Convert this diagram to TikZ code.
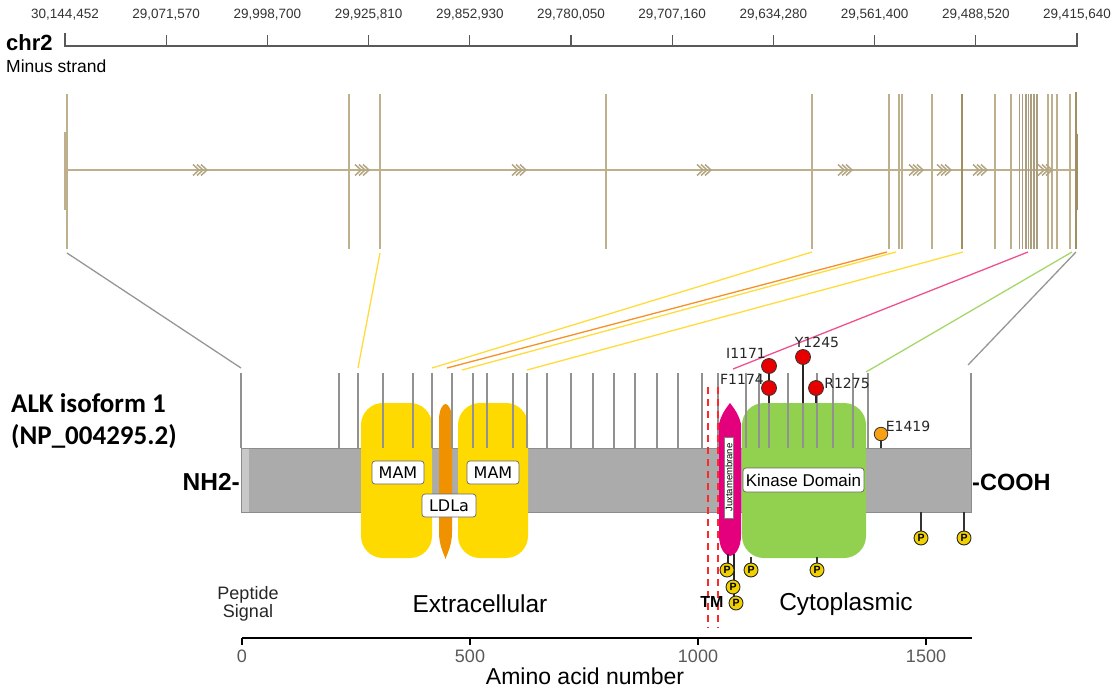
\documentclass[tikz,border=0pt]{standalone}
\usepackage{fontspec}
\setmainfont{Liberation Sans}
\newfontfamily\dejavu{DejaVu Sans}
\newfontfamily\carlito{Carlito}
\newcommand\myfs[1]{\fontsize{#1}{#1}\selectfont}
\definecolor{exon}{RGB}{190,176,140}
\definecolor{exondark}{RGB}{160,143,98}
\definecolor{bargray}{RGB}{171,171,171}
\definecolor{barlight}{RGB}{200,200,200}
\definecolor{barline}{RGB}{140,140,140}
\definecolor{tickgray}{RGB}{145,145,145}
\definecolor{mamyel}{RGB}{255,218,0}
\definecolor{ldlor}{RGB}{240,146,0}
\definecolor{jmmag}{RGB}{228,0,124}
\definecolor{kingreen}{RGB}{146,208,80}
\definecolor{lolred}{RGB}{230,0,0}
\definecolor{lolor}{RGB}{247,160,20}
\definecolor{pyel}{RGB}{240,208,0}
\definecolor{cyel}{RGB}{255,220,60}
\definecolor{cor}{RGB}{245,145,40}
\definecolor{cpink}{RGB}{240,80,140}
\definecolor{cgreen}{RGB}{165,215,105}
\definecolor{cgray}{RGB}{150,150,150}
\definecolor{tmred}{RGB}{255,40,40}
\begin{document}
\begin{tikzpicture}[x=1pt,y=-1pt,
  chrlab/.style={font=\myfs{13.5}, text=black!80, inner sep=0pt},
  exonline/.style={exon, line width=1.5pt},
  ptick/.style={tickgray, line width=1.2pt},
  conn/.style={line width=1.3pt},
  domlabel/.style={draw=black!60, fill=white, rounded corners=3pt, inner sep=2.5pt, line width=0.7pt},
  lolr/.style={circle, draw=black!80, fill=lolred, minimum size=15pt, inner sep=0pt, line width=0.8pt},
  lolo/.style={circle, draw=black!80, fill=lolor, minimum size=13.5pt, inner sep=0pt, line width=0.8pt},
  pcirc/.style={circle, draw=black!85, fill=pyel, minimum size=14pt, inner sep=0pt, font=\bfseries\myfs{10.5}, line width=0.9pt},
  mutlabel/.style={font=\dejavu\myfs{14}, inner sep=0pt, text=black!85},
  stem/.style={black!85, line width=1.6pt},
  bigtext/.style={font=\myfs{24.5}, inner sep=0pt},
  axlab/.style={font=\myfs{18}, text=black!65, inner sep=0pt}
]
\useasboundingbox (0,0) rectangle (1115,687);

% ---------- chromosome axis ----------
\draw[black!65, line width=1.2pt] (65,33) -- (65,46) -- (1077,46) -- (1077,33);
\foreach \i in {1,...,9} \draw[black!65, line width=1.2pt] ({65+\i*101.2},35) -- ({65+\i*101.2},46);
\node[chrlab] (c0) at (65,15) {30,144,452};
\node[chrlab] (c1) at (166.2,15) {29,071,570};
\node[chrlab] (c2) at (267.4,15) {29,998,700};
\node[chrlab] (c3) at (368.6,15) {29,925,810};
\node[chrlab] (c4) at (469.8,15) {29,852,930};
\node[chrlab] (c5) at (571,15) {29,780,050};
\node[chrlab] (c6) at (672.2,15) {29,707,160};
\node[chrlab] (c7) at (773.4,15) {29,634,280};
\node[chrlab] (c8) at (874.6,15) {29,561,400};
\node[chrlab] (c9) at (975.8,15) {29,488,520};
\node[chrlab] (c10) at (1077,15) {29,415,640};
\node[anchor=west, font=\bfseries\myfs{22}, inner sep=0pt] (chr) at (6,43) {chr2};
\node[anchor=west, font=\myfs{17.5}, inner sep=0pt] (minus) at (6,66) {Minus strand};

% ---------- exon structure ----------
\draw[exon, line width=2pt] (67,170) -- (1076,170);
\foreach \x in {67,349,380,606,812,889,899,902,932,995,1011,1048,1052,1057,1070}
  \draw[exonline] (\x,94) -- (\x,249);
\foreach \x in {1019.5,1022.5,1026,1028.5,1031,1034,1037}
  \draw[exon!90!black, line width=1.1pt] (\x,94) -- (\x,249);
\draw[exondark, line width=1.5pt] (962,94) -- (962,249);
\draw[exondark, line width=1.8pt] (1076,92) -- (1076,249);
\draw[exon, line width=2.5pt] (65.5,132) -- (65.5,210);
\draw[exondark, line width=2.5pt] (1077,134) -- (1077,210);
\foreach \c in {200,362,519,704,845,916,944,980,1045}
  \foreach \d in {-4,0,4}
    \draw[exondark!80, line width=1.5pt] ({\c+\d-3},164.5) -- ({\c+\d+3},170) -- ({\c+\d-3},175.5);

% ---------- connectors exon -> protein ----------
\coordinate (e1) at (67,253);   \coordinate (p1) at (241,368);
\coordinate (e2) at (380,253);  \coordinate (p2) at (358,368);
\coordinate (e3) at (812,252);  \coordinate (p3) at (432,368);
\coordinate (e4) at (887,252);  \coordinate (p4) at (447,368);
\coordinate (e5) at (896,252);  \coordinate (p5) at (462,370);
\coordinate (e6) at (963,252);  \coordinate (p6) at (527,370);
\coordinate (e7) at (1028,252); \coordinate (p7) at (733,369);
\coordinate (e8) at (1072,252); \coordinate (p8) at (866,372);
\coordinate (e9) at (1076,252); \coordinate (p9) at (968,365);
\draw[conn, cgray] (e1) -- (p1);
\draw[conn, cyel] (e2) -- (p2);
\draw[conn, cyel] (e3) -- (p3);
\draw[conn, cor] (e4) -- (p4);
\draw[conn, cyel] (e5) -- (p5);
\draw[conn, cyel] (e6) -- (p6);
\draw[conn, cpink] (e7) -- (p7);
\draw[conn, cgreen] (e8) -- (p8);
\draw[conn, cgray] (e9) -- (p9);

% ---------- protein bar ----------
\draw[barline, fill=bargray, line width=0.8pt] (241,448) rectangle (971,512);
\fill[barlight] (241.5,448.5) rectangle (249,511.5);

% ---------- domains ----------
\fill[mamyel, rounded corners=22pt] (361,403) rectangle (432,558);
\fill[mamyel, rounded corners=22pt] (458,403) rectangle (528,558);
\fill[ldlor] (439,420) .. controls (439,409) and (443,404) .. (445.5,404)
  .. controls (448,404) and (452,409) .. (452,420) -- (452,532)
  .. controls (452,546) and (447,554) .. (445.5,559)
  .. controls (444,554) and (439,546) .. (439,532) -- cycle;
\fill[jmmag] (719,424) .. controls (721,415) and (726,408) .. (730,403)
  .. controls (734,408) and (739,415) .. (741,424) -- (741,535)
  .. controls (741,548) and (735,556) .. (730,556)
  .. controls (725,556) and (719,548) .. (719,535) -- cycle;
\fill[kingreen, rounded corners=22pt] (742,403) rectangle (866,558);

% ---------- protein ticks ----------
\foreach \x in {241,339,358,383,413,432,452,473,487,513,527,547,571,593,614,635,657,678,702,718,746,759,769,788,803,817,833,853,868,971}
  \draw[ptick] (\x,373) -- (\x,448);

% ---------- TM dashed lines ----------
\draw[tmred, line width=2.2pt, dash pattern=on 7pt off 5pt] (708,387) -- (708,628);
\draw[tmred, line width=2.2pt, dash pattern=on 7pt off 5pt] (718,387) -- (718,628);

% ---------- domain labels ----------
\node[domlabel, font=\dejavu\myfs{16}, minimum width=52pt, minimum height=23pt, inner sep=1pt] (mam1) at (398,472.5) {MAM};
\node[domlabel, font=\dejavu\myfs{16}, minimum width=52pt, minimum height=23pt, inner sep=1pt] (mam2) at (493,472.5) {MAM};
\node[domlabel, font=\dejavu\myfs{16}, minimum width=54pt, minimum height=23pt, inner sep=1pt] (ldla) at (449,505.5) {LDLa};
\node[domlabel, font=\myfs{17}, inner sep=1pt, minimum width=121pt, minimum height=24pt] (kin) at (803.5,480) {Kinase Domain};
\node[draw=black!50, fill=white, rotate=90, font=\myfs{9.5}, inner sep=1.2pt, minimum width=81pt, line width=0.6pt] (jm) at (729,477.5) {Juxtamembrane};

% ---------- mutation lollipops ----------
\draw[stem] (769,366) -- (769,403);
\draw[stem] (803,357) -- (803,403);
\draw[stem] (816,388) -- (816,403);
\draw[black!80, line width=1.2pt] (881,434) -- (881,448);
\node[lolr] (i1171) at (769,366) {};
\node[lolr] (f1174) at (769,388) {};
\node[lolr] (y1245) at (803,357) {};
\node[lolr] (r1275) at (816,388) {};
\node[lolo] (e1419) at (881,434) {};
\node[mutlabel] (li1171) at (746,353) {I1171};
\node[mutlabel] (lf1174) at (742,379) {F1174};
\node[mutlabel] (ly1245) at (817,342) {Y1245};
\node[mutlabel] (lr1275) at (847,383) {R1275};
\node[mutlabel] (le1419) at (908,426) {E1419};

% ---------- phosphorylation sites ----------
\draw[black!80, line width=1.2pt] (921,512) -- (921,532);
\draw[black!80, line width=1.2pt] (964,512) -- (964,532);
\draw[black!80, line width=1.2pt] (751,557) -- (751,565);
\draw[black!80, line width=1.2pt] (817,557) -- (817,565);
\draw[black!85, line width=1.6pt] (728,554) -- (728,565);
\draw[black!85, line width=2pt] (734,554) -- (734,598);
\node[pcirc] (ph1) at (727,570) {P};
\node[pcirc] (ph2) at (733,587) {P};
\node[pcirc] (ph3) at (736,603) {P};
\node[pcirc] (ph4) at (751,570) {P};
\node[pcirc] (ph5) at (817,570) {P};
\node[pcirc] (ph6) at (921,538) {P};
\node[pcirc] (ph7) at (964,538) {P};

% ---------- side labels ----------
\node[anchor=west, font=\carlito\bfseries\myfs{27}, inner sep=0pt] (alk1) at (11,403) {ALK isoform 1};
\node[anchor=west, font=\carlito\bfseries\myfs{27}, inner sep=0pt] (alk2) at (11,437) {(NP\_004295.2)};
\node[anchor=east, font=\bfseries\myfs{24.5}, inner sep=0pt] (nh2) at (240,482) {NH2-};
\node[anchor=west, font=\bfseries\myfs{23.5}, inner sep=0pt] (cooh) at (972,482) {-COOH};

% ---------- region labels ----------
\node[font=\myfs{18}, align=center, inner sep=0pt, text=black!85] (pep) at (248,604) {Peptide\\[0pt]Signal};
\node[bigtext] (extra) at (480,604) {Extracellular};
\node[bigtext] (cyto) at (846,604) {Cytoplasmic};
\node[font=\bfseries\myfs{16}, inner sep=0pt] (tm) at (712,602) {TM};

% ---------- amino acid axis ----------
\draw[black, line width=2pt] (242,638) -- (972,638);
\foreach \x in {242,470,698,926} \draw[black, line width=1.5pt] (\x,638) -- (\x,645);
\node[axlab] (a0) at (242,656) {0};
\node[axlab] (a500) at (470,656) {500};
\node[axlab] (a1000) at (698,656) {1000};
\node[axlab] (a1500) at (926,656) {1500};
\node[font=\myfs{23}, inner sep=0pt] (aan) at (585,676) {Amino acid number};
\end{tikzpicture}
\end{document}
